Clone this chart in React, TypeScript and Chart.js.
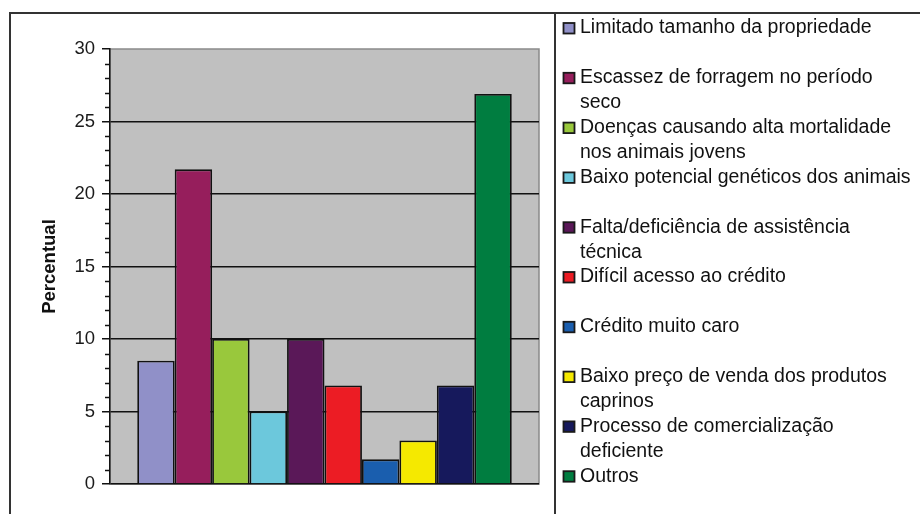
import React, { useEffect, useRef } from 'react';
import { Chart, registerables } from 'chart.js';

Chart.register(...registerables);

const categories = [''];
const seriesNames = [
  'Limitado tamanho da propriedade',
  'Escassez de forragem no período\nseco',
  'Doenças causando alta mortalidade\nnos animais jovens',
  'Baixo potencial genéticos dos animais',
  'Falta/deficiência de assistência\ntécnica',
  'Difícil acesso ao crédito',
  'Crédito muito caro',
  'Baixo preço de venda dos produtos\ncaprinos',
  'Processo de comercialização\ndeficiente',
  'Outros',
];
const seriesValues = [8.5, 21.7, 10, 5, 10, 6.8, 1.7, 3, 6.8, 26.9];
const seriesColors = [
  '#9090C8',
  '#961E5C',
  '#99C83C',
  '#6CC8DC',
  '#5A1858',
  '#EC1C24',
  '#1A5EAE',
  '#F5E900',
  '#16195C',
  '#007D40',
];
const yMin = 0;
const yMax = 30;
const yStep = 5;
const yTitle = 'Percentual';

const FONT = 'Arial, "Liberation Sans", sans-serif';

const framePlugin = {
  id: 'excelFrame',
  beforeDraw(chart: any) {
    const { ctx, chartArea: a } = chart;
    ctx.save();
    ctx.fillStyle = '#ffffff';
    ctx.fillRect(0, 0, chart.width, chart.height);
    ctx.fillStyle = '#C0C0C0';
    ctx.fillRect(a.left, a.top, a.right - a.left, a.bottom - a.top);
    ctx.strokeStyle = '#8a8a8a';
    ctx.lineWidth = 1.5;
    ctx.strokeRect(a.left, a.top, a.right - a.left, a.bottom - a.top);
    ctx.restore();
  },
  afterDraw(chart: any) {
    const { ctx } = chart;
    const ys = chart.scales.y;
    ctx.save();
    // minor ticks
    ctx.strokeStyle = '#111';
    ctx.lineWidth = 1.5;
    for (let v = yMin; v <= yMax; v++) {
      if (v % yStep === 0) continue;
      const py = Math.round(ys.getPixelForValue(v)) + 0.5;
      ctx.beginPath();
      ctx.moveTo(ys.right - 5, py);
      ctx.lineTo(ys.right, py);
      ctx.stroke();
    }
    // outer frame
    ctx.strokeStyle = '#333';
    ctx.lineWidth = 2;
    ctx.beginPath();
    ctx.moveTo(10, chart.height);
    ctx.lineTo(10, 13);
    ctx.lineTo(chart.width, 13);
    ctx.moveTo(555, 13);
    ctx.lineTo(555, chart.height);
    ctx.stroke();

    // legend
    const x0 = 563.5;
    const tx = 580;
    ctx.font = `19.5px ${FONT}`;
    ctx.textBaseline = 'middle';
    ctx.textAlign = 'left';
    chart.data.datasets.forEach((ds: any, i: number) => {
      const y = 28 + i * 49.8;
      ctx.fillStyle = ds.backgroundColor;
      ctx.fillRect(x0, y - 5, 11, 10.5);
      ctx.strokeStyle = '#1a1a1a';
      ctx.lineWidth = 1.8;
      ctx.strokeRect(x0, y - 5, 11, 10.5);
      ctx.fillStyle = '#111';
      String(ds.label)
        .split('\n')
        .forEach((line: string, j: number) => {
          ctx.fillText(line, tx, y + j * 25);
        });
    });
    ctx.restore();
  },
};

export default function App() {
  const ref = useRef<HTMLCanvasElement | null>(null);

  useEffect(() => {
    if (!ref.current) return;
    const chart = new Chart(ref.current, {
      type: 'bar',
      data: {
        labels: categories,
        datasets: seriesNames.map((name, i) => ({
          label: name,
          data: [seriesValues[i]],
          backgroundColor: seriesColors[i],
          borderColor: '#111',
          borderWidth: 1.8,
          categoryPercentage: 0.873,
          barPercentage: 1,
        })),
      },
      options: {
        responsive: false,
        animation: false,
        devicePixelRatio: 1,
        layout: { padding: { left: 10, top: 49, right: 381, bottom: 30 } },
        plugins: {
          legend: { display: false },
          tooltip: { enabled: false },
        },
        scales: {
          x: { display: false },
          y: {
            min: yMin,
            max: yMax,
            afterFit: (s: any) => {
              s.width = 100;
            },
            ticks: {
              stepSize: yStep,
              padding: 7,
              color: '#1a1a1a',
              font: { family: FONT, size: 18.5 },
            },
            grid: {
              color: (c: any) =>
                c.tick && c.tick.value === yMax ? 'rgba(0,0,0,0)' : '#111',
              lineWidth: 1.5,
              tickColor: '#111',
              tickLength: 8,
            },
            border: { display: true, color: '#111', width: 1.5 },
            title: {
              display: true,
              text: yTitle,
              color: '#111',
              font: { family: FONT, size: 18.5, weight: 'bold' },
              padding: { top: 29, bottom: 0 },
            },
          },
        },
      },
      plugins: [framePlugin],
    });
    return () => chart.destroy();
  }, []);

  return (
    <div
      style={{
        position: 'fixed',
        left: 0,
        top: 0,
        width: 920,
        height: 514,
        background: '#fff',
      }}
    >
      <canvas ref={ref} width={920} height={514} style={{ display: 'block' }} />
    </div>
  );
}
